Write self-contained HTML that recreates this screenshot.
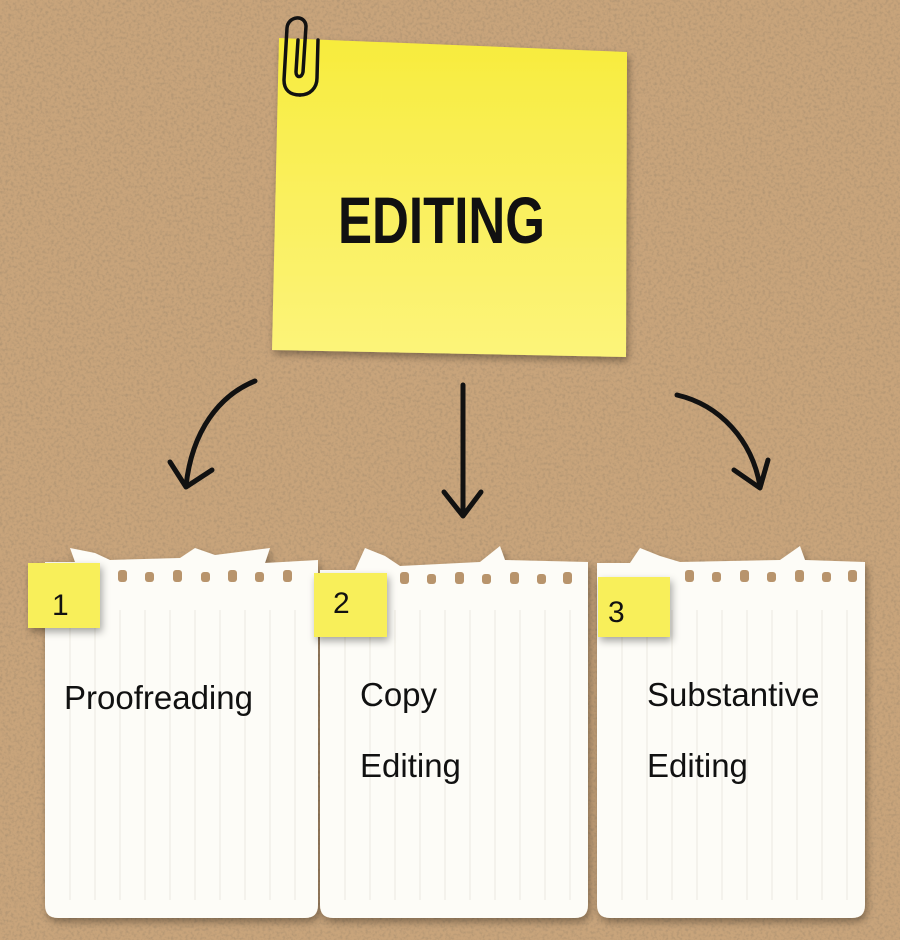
<!DOCTYPE html>
<html><head><meta charset="utf-8"><style>
html,body{margin:0;padding:0;width:900px;height:940px;overflow:hidden;background:#c6a27a}
text{font-family:"Liberation Sans",sans-serif}
</style></head><body>
<svg width="900" height="940" viewBox="0 0 900 940" xmlns="http://www.w3.org/2000/svg">
<defs>
<filter id="cork" x="0" y="0" width="100%" height="100%">
<feTurbulence type="fractalNoise" baseFrequency="0.35" numOctaves="2" seed="3" result="n"/>
<feColorMatrix in="n" type="matrix" values="0 0 0 0 0.35  0 0 0 0 0.25  0 0 0 0 0.15  0 0 0 -2.2 1.25"/>
</filter>
<filter id="sh" x="-10%" y="-10%" width="130%" height="130%"><feDropShadow dx="2" dy="4" stdDeviation="4" flood-opacity="0.35"/></filter>
<linearGradient id="yl" x1="0" y1="0" x2="0" y2="1"><stop offset="0" stop-color="#f7ec3c"/><stop offset="0.3" stop-color="#f9ee52"/><stop offset="1" stop-color="#fcf47a"/></linearGradient>
</defs>
<rect width="900" height="940" fill="#c8a47b"/>
<rect width="900" height="940" filter="url(#cork)" opacity="0.55"/>

<polygon points="279,38 627,52 626,357 272,350" fill="url(#yl)" filter="url(#sh)"/>
<text x="338" y="243" font-size="66" font-weight="bold" textLength="207" lengthAdjust="spacingAndGlyphs" fill="#111">EDITING</text>
<path d="M300,95 C290,95 284,90 284,80 L287,28 C288,16 305,14 306,26 L303,72 C302,78 296,78 296,72 L298,40" fill="none" stroke="#111" stroke-width="3.5" stroke-linecap="round"/>
<path d="M300,95 C310,95 317,88 317,78 L318,40" fill="none" stroke="#111" stroke-width="3.5" stroke-linecap="round"/>

<g fill="none" stroke="#111" stroke-width="5" stroke-linecap="round" stroke-linejoin="round">
<path d="M255,381 C220,395 192,430 186,486"/>
<path d="M170,462 L186,487 L212,470"/>
<path d="M463,385 L463,515"/>
<path d="M444,492 L463,516 L481,492"/>
<path d="M677,395 C720,405 752,440 760,486"/>
<path d="M734,470 L760,488 L768,460"/>
</g>

<g filter="url(#sh)" fill="#fdfcf7">
<path d="M45,562 L75,562 L70,548 L95,553 L110,560 L180,558 L195,548 L215,555 L270,548 L265,563 L318,560 L318,905 Q318,918 305,918 L58,918 Q45,918 45,905 Z"/>
<path d="M320,570 L355,570 L365,548 L385,556 L400,566 L480,562 L500,546 L505,560 L588,562 L588,905 Q588,918 575,918 L333,918 Q320,918 320,905 Z"/>
<path d="M597,563 L630,563 L640,548 L660,556 L680,562 L780,560 L800,546 L805,560 L865,562 L865,905 Q865,918 852,918 L610,918 Q597,918 597,905 Z"/>
</g>
<g fill="#b8946c">
<rect x="118" y="570" width="9" height="12" rx="3"/><rect x="145" y="572" width="9" height="10" rx="3"/><rect x="173" y="570" width="9" height="12" rx="3"/><rect x="201" y="572" width="9" height="10" rx="3"/><rect x="228" y="570" width="9" height="12" rx="3"/><rect x="255" y="572" width="9" height="10" rx="3"/><rect x="283" y="570" width="9" height="12" rx="3"/>
<rect x="400" y="572" width="9" height="12" rx="3"/><rect x="427" y="574" width="9" height="10" rx="3"/><rect x="455" y="572" width="9" height="12" rx="3"/><rect x="482" y="574" width="9" height="10" rx="3"/><rect x="510" y="572" width="9" height="12" rx="3"/><rect x="537" y="574" width="9" height="10" rx="3"/><rect x="563" y="572" width="9" height="12" rx="3"/>
<rect x="685" y="570" width="9" height="12" rx="3"/><rect x="712" y="572" width="9" height="10" rx="3"/><rect x="740" y="570" width="9" height="12" rx="3"/><rect x="767" y="572" width="9" height="10" rx="3"/><rect x="795" y="570" width="9" height="12" rx="3"/><rect x="822" y="572" width="9" height="10" rx="3"/><rect x="848" y="570" width="9" height="12" rx="3"/>
</g>
<g stroke="#ece9e0" stroke-width="1">
<path d="M70,610V900M95,610V900M120,610V900M145,610V900M170,610V900M195,610V900M220,610V900M245,610V900M270,610V900M295,610V900"/>
<path d="M345,610V900M370,610V900M395,610V900M420,610V900M445,610V900M470,610V900M495,610V900M520,610V900M545,610V900M570,610V900"/>
<path d="M622,610V900M647,610V900M672,610V900M697,610V900M722,610V900M747,610V900M772,610V900M797,610V900M822,610V900M847,610V900"/>
</g>

<g filter="url(#sh)">
<rect x="28" y="563" width="72" height="65" fill="#f8ef5a"/>
<rect x="314" y="573" width="73" height="64" fill="#f8ef5a"/>
<rect x="598" y="577" width="72" height="60" fill="#f8ef5a"/>
</g>
<g font-size="30" fill="#111">
<text x="52" y="615">1</text>
<text x="333" y="613">2</text>
<text x="608" y="622">3</text>
</g>
<g font-size="33" fill="#111">
<text x="64" y="709">Proofreading</text>
<text x="360" y="706">Copy</text>
<text x="360" y="777">Editing</text>
<text x="647" y="706">Substantive</text>
<text x="647" y="777">Editing</text>
</g>
</svg>
</body></html>
